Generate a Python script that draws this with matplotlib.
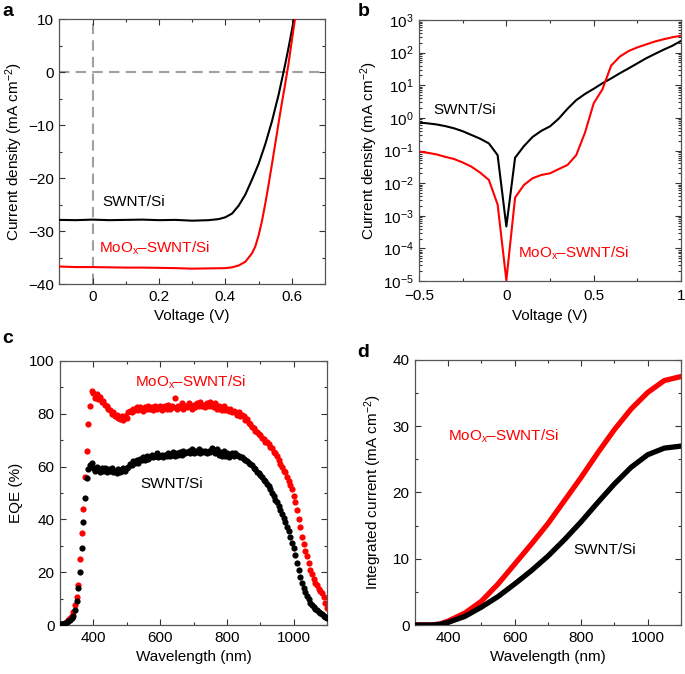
import matplotlib
matplotlib.use('Agg')
import matplotlib.pyplot as plt
from matplotlib.ticker import MultipleLocator, LogLocator, FuncFormatter, NullFormatter

plt.rcParams['font.family'] = ['Liberation Sans', 'DejaVu Sans']
plt.rcParams['mathtext.fontset'] = 'custom'
plt.rcParams['mathtext.rm'] = 'Liberation Sans'
plt.rcParams['mathtext.it'] = 'Liberation Sans:italic'
plt.rcParams['font.size'] = 11

RED = '#ff0000'
BLACK = '#000000'

# ---- panel a: J-V under light ----
v_swnt = [-0.1, -0.05, 0.0, 0.05, 0.1, 0.15, 0.2, 0.25, 0.3, 0.35, 0.38, 0.40, 0.42, 0.44,
          0.46, 0.48, 0.50, 0.52, 0.54, 0.56, 0.57, 0.58, 0.59, 0.60, 0.607]
j_swnt = [-27.9, -27.95, -27.85, -27.95, -27.9, -27.85, -27.95, -27.9, -28.05, -27.95, -27.75, -27.4, -26.7, -25.2,
          -23.1, -20.3, -17.3, -13.6, -9.3, -4.3, -1.4, 1.5, 4.6, 7.9, 10.2]
v_moox = [-0.1, -0.05, 0.0, 0.05, 0.1, 0.15, 0.2, 0.25, 0.3, 0.35, 0.4, 0.42, 0.44, 0.46,
          0.48, 0.49, 0.50, 0.51, 0.52, 0.53, 0.54, 0.55, 0.56, 0.57, 0.58, 0.59, 0.60, 0.61]
j_moox = [-36.7, -36.8, -36.8, -36.85, -36.9, -36.9, -36.95, -37.0, -37.1, -37.05, -37.0, -36.85, -36.5, -35.8,
          -34.2, -32.9, -30.8, -28.1, -24.8, -21.2, -17.4, -13.5, -9.6, -5.8, -2.2, 1.6, 6.0, 10.3]

# ---- panel b: dark J-V (absolute, log) ----
v_dark = [-0.5, -0.45, -0.4, -0.35, -0.3, -0.25, -0.2, -0.15, -0.1, -0.05, 0.0, 0.05, 0.1, 0.15, 0.2, 0.25,
          0.3, 0.35, 0.4, 0.45, 0.5, 0.55, 0.6, 0.65, 0.7, 0.75, 0.8, 0.85, 0.9, 0.95, 1.0]
jd_swnt = [0.72, 0.68, 0.63, 0.56, 0.48, 0.39, 0.30, 0.23, 0.165, 0.072, 4.7e-4, 0.060, 0.135, 0.26, 0.40, 0.55,
           0.95, 1.9, 3.5, 5.4, 7.8, 11.5, 16.2, 23.4, 33, 47, 67, 91, 123, 162, 229]
jd_moox = [0.093, 0.085, 0.076, 0.064, 0.055, 0.043, 0.032, 0.021, 0.0125, 0.0022, 1.05e-5, 0.0036, 0.0087, 0.0141,
           0.0178, 0.020, 0.027, 0.036, 0.072, 0.35, 2.8, 7.5, 40, 76, 112, 145, 178, 219, 257, 295, 331]

# ---- panel c: EQE ----
wl = list(range(300, 1105, 5))
eqe_moox = [0.3, 0.2, 0.4, 0.8, 1.2, 1.8, 2.5, 3.5, 5.0, 7.5, 10.5, 15, 25, 35, 44, 56, 66, 76, 83, 88.5,
            88, 86, 87.5, 85.5, 86.5, 84.5, 85, 83.5, 83, 82, 81.5, 80, 80.5, 79, 79.5, 78.5, 78, 79, 77.8, 79,
            78.5, 80.5, 81, 80.5, 82, 81.5, 82.5, 81.5, 82.5, 82, 81, 82.5, 82, 83, 82, 82.5, 81.5, 83, 82, 82.5,
            83, 81.5, 82.5, 83, 82, 83.5, 82, 83, 82.5, 85.8, 81.8, 83, 82.5, 84, 82, 83, 82.5, 84, 83, 82,
            83.5, 82.5, 84, 83, 84.5, 83, 83.5, 82.5, 84, 83, 84.5, 83, 82.5, 84, 82, 83, 82, 81.5, 83, 81.5,
            82, 81, 82, 80.5, 81, 80.5, 79.5, 80.5, 79, 79.5, 79, 77.5, 78, 76.5, 76, 75, 74.5, 73.5, 73, 72.5,
            72, 71, 70.5, 69.5, 69.5, 68.5, 67.5, 67, 65.5, 65, 64, 62.5, 61, 60, 58.5, 58, 56, 54.5, 53, 51.5,
            49, 46.5, 43.5, 40, 37, 33.5, 30.5, 28, 26, 23.5, 21, 19.5, 17.5, 16, 15, 13.5, 13, 12, 10.5, 8.5,
            6.5]
eqe_swnt = [0.2, 0.3, 0.5, 0.8, 1.0, 1.5, 2.0, 2.8, 3.5, 5.5, 9, 14, 20, 29, 39, 48, 55.5, 59, 60.5, 61.5,
            59.5, 58.5, 60, 59, 58, 59.5, 58.5, 59.5, 58, 59, 58.5, 59.5, 58, 58.5, 57.5, 59, 58, 58.5, 59.5, 58.5,
            59.5, 60, 61, 60.5, 62, 61.5, 62.5, 61.5, 63, 62.5, 63.5, 62.5, 64, 63, 63.5, 64.5, 63.5, 64, 65, 63.5,
            64, 64.5, 63.5, 64.5, 64, 65, 64, 64.5, 65.5, 64, 65, 64.5, 65.5, 64.5, 66, 65, 65.5, 66, 65, 66.5,
            65, 66, 65.5, 66.5, 65, 66, 65.5, 66, 65, 66, 65.5, 67, 66, 65, 66.5, 64.5, 65.5, 64, 66, 64,
            65, 63.5, 64.5, 65, 64, 65, 64.5, 64, 63.5, 63.5, 63, 62.5, 62, 61.5, 61, 60.5, 59.5, 59, 58, 57.5,
            56.8, 56, 55, 54.5, 53.5, 52.5, 51.5, 50, 49, 47.5, 46.5, 45, 43.5, 42, 40.5, 39, 37, 35.5, 33.5, 31,
            29, 26.5, 23.5, 21, 18, 16, 14, 12.5, 11, 10, 8.5, 7.5, 7, 6, 5.5, 5, 4.5, 4, 3.5, 3,
            2.5]

# ---- panel d: integrated current ----
wl_int = [300, 350, 375, 400, 450, 500, 550, 600, 650, 700, 750, 800, 850, 900, 950, 1000, 1050, 1100]
jint_moox = [0, 0, 0.15, 0.6, 1.8, 3.6, 6.2, 9.2, 12.2, 15.3, 18.8, 22.3, 26.0, 29.5, 32.6, 35.1, 36.9, 37.5]
jint_swnt = [0, 0, 0.1, 0.4, 1.3, 2.7, 4.3, 6.2, 8.2, 10.4, 12.9, 15.6, 18.5, 21.3, 23.8, 25.7, 26.7, 27.0]

fig = plt.figure(figsize=(6.85, 6.74), dpi=100)
ax_a = fig.add_axes([0.0866, 0.5786, 0.388, 0.3932])
ax_b = fig.add_axes([0.6117, 0.5831, 0.3825, 0.3872])
ax_c = fig.add_axes([0.0876, 0.0727, 0.3898, 0.3917])
ax_d = fig.add_axes([0.6058, 0.0727, 0.3883, 0.3932])


def style(ax):
    ax.tick_params(which='both', direction='in', top=True, right=True, width=0.8, colors='#333333',
                   labelcolor='black', labelsize=11)
    ax.tick_params(which='major', length=4, pad=4)
    ax.tick_params(which='minor', length=2.2)
    for s in ax.spines.values():
        s.set_color('#555555')
        s.set_linewidth(0.9)


def plain(x, pos):
    return ('%g' % x).replace('-', '\u2212')


moox_label = 'MoO$_\\mathregular{x}$\u2013SWNT/Si'

# a
ax_a.axhline(0, color='#a0a0a0', lw=1.5, ls=(0, (5, 3)), zorder=1)
ax_a.axvline(0, color='#a0a0a0', lw=1.5, ls=(0, (5, 3)), zorder=1)
ax_a.plot(v_swnt, j_swnt, color=BLACK, lw=1.5, zorder=3)
ax_a.plot(v_moox, j_moox, color=RED, lw=1.5, zorder=3)
ax_a.set_xlim(-0.1, 0.7)
ax_a.set_ylim(-40, 10)
ax_a.xaxis.set_major_locator(MultipleLocator(0.2))
ax_a.xaxis.set_minor_locator(MultipleLocator(0.1))
ax_a.yaxis.set_major_locator(MultipleLocator(10))
ax_a.yaxis.set_minor_locator(MultipleLocator(5))
ax_a.xaxis.set_major_formatter(FuncFormatter(plain))
ax_a.set_xlabel('Voltage (V)')
ax_a.set_ylabel('Current density (mA cm$^{\u22122}$)', labelpad=2)
ax_a.text(0.03, -24.5, 'SWNT/Si', color=BLACK, fontsize=11, va='center')
ax_a.text(0.02, -33.2, moox_label, color=RED, fontsize=11, va='center')
style(ax_a)

# b
ax_b.semilogy(v_dark, jd_swnt, color=BLACK, lw=1.5)
ax_b.semilogy(v_dark, jd_moox, color=RED, lw=1.5)
ax_b.set_xlim(-0.5, 1.0)
ax_b.set_ylim(1e-5, 1e3)
ax_b.xaxis.set_major_locator(MultipleLocator(0.5))
ax_b.xaxis.set_minor_locator(MultipleLocator(0.25))
ax_b.xaxis.set_major_formatter(FuncFormatter(plain))
ax_b.yaxis.set_major_locator(LogLocator(base=10, numticks=20))
ax_b.yaxis.set_minor_locator(LogLocator(base=10, subs=range(2, 10), numticks=20))
ax_b.yaxis.set_minor_formatter(NullFormatter())
ax_b.set_xlabel('Voltage (V)')
ax_b.set_ylabel('Current density (mA cm$^{\u22122}$)', labelpad=2)
ax_b.text(-0.42, 1.74, 'SWNT/Si', color=BLACK, fontsize=11, va='center')
ax_b.text(0.065, 7.2e-5, moox_label, color=RED, fontsize=11, va='center')
style(ax_b)
ax_b.tick_params(axis='x', which='major', pad=6)

# c
ax_c.scatter(wl, eqe_swnt, s=20, color=BLACK, linewidths=0, zorder=3)
ax_c.scatter(wl, eqe_moox, s=20, color=RED, linewidths=0, zorder=2)
ax_c.set_xlim(300, 1100)
ax_c.set_ylim(0, 100)
ax_c.xaxis.set_major_locator(MultipleLocator(200))
ax_c.xaxis.set_minor_locator(MultipleLocator(100))
ax_c.yaxis.set_major_locator(MultipleLocator(20))
ax_c.yaxis.set_minor_locator(MultipleLocator(10))
ax_c.set_xlabel('Wavelength (nm)')
ax_c.set_ylabel('EQE (%)')
ax_c.text(525, 92, moox_label, color=RED, fontsize=11, va='center')
ax_c.text(541, 53.4, 'SWNT/Si', color=BLACK, fontsize=11, va='center')
style(ax_c)

# d
ax_d.plot(wl_int, jint_swnt, color=BLACK, lw=3.8, zorder=3)
ax_d.plot(wl_int, jint_moox, color=RED, lw=3.8, zorder=2)
ax_d.set_xlim(300, 1100)
ax_d.set_ylim(0, 40)
ax_d.xaxis.set_major_locator(MultipleLocator(200))
ax_d.xaxis.set_minor_locator(MultipleLocator(100))
ax_d.yaxis.set_major_locator(MultipleLocator(10))
ax_d.yaxis.set_minor_locator(MultipleLocator(5))
ax_d.set_xlabel('Wavelength (nm)')
ax_d.set_ylabel('Integrated current (mA cm$^{\u22122}$)', labelpad=6)
ax_d.text(400, 28.5, 'MoO$_{\\mathit{x}}$\u2013SWNT/Si', color=RED, fontsize=11, va='center')
ax_d.text(776, 11.3, 'SWNT/Si', color=BLACK, fontsize=11, va='center')
style(ax_d)

# panel letters
for lbl, x, y in [('a', 0.003, 0.995), ('b', 0.522, 0.995), ('c', 0.003, 0.51), ('d', 0.522, 0.49)]:
    fig.text(x, y, lbl, fontsize=14, fontweight='bold', va='top', ha='left')

fig.savefig('out.png', dpi=100)
